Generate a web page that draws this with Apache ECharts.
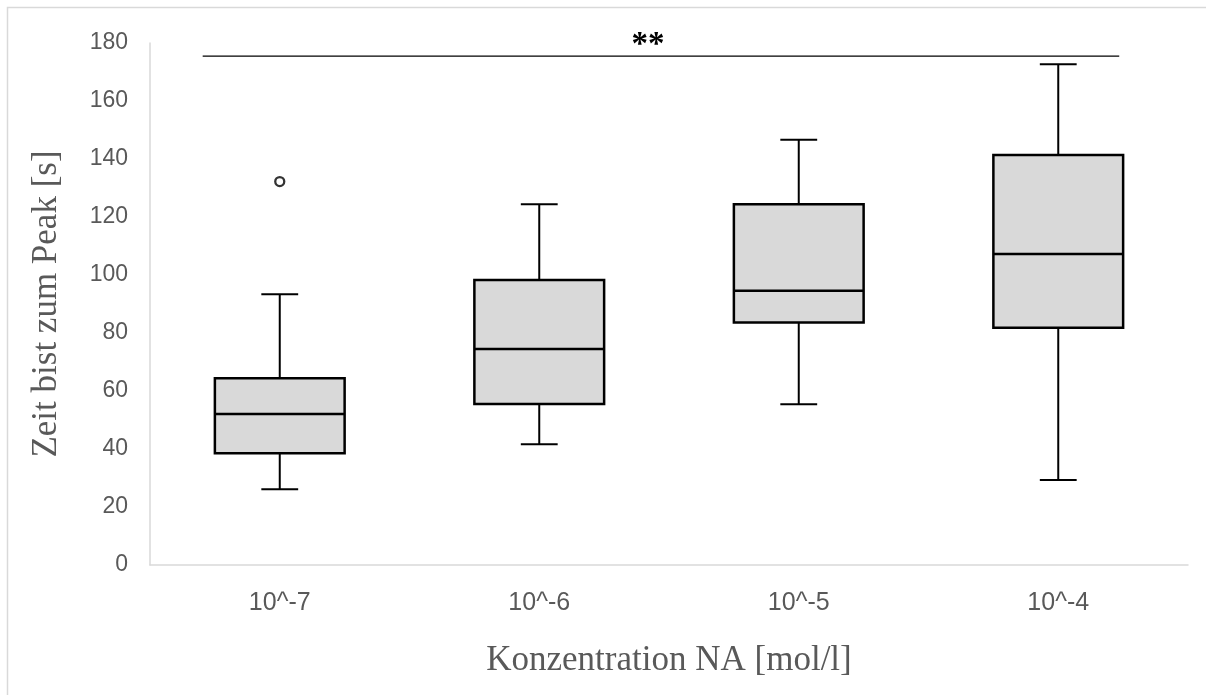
<!DOCTYPE html>
<html>
<head>
<meta charset="utf-8">
<script src="https://cdn.jsdelivr.net/npm/echarts@6/dist/echarts.min.js"></script>
<style>
  html, body { margin: 0; padding: 0; background: #ffffff; }
  #chart { width: 1206px; height: 695px; }
</style>
</head>
<body>
<div id="chart"></div>
<script>
// ---- data ----
const categories   = ['10^-7', '10^-6', '10^-5', '10^-4'];
const whiskerLow   = [26.1, 41.6, 55.4, 29.3];
const quartile1    = [38.5, 55.5, 83.6, 81.8];
const medians      = [52.1, 74.5, 94.6, 107.2];
const quartile3    = [64.4, 98.3, 124.4, 141.4];
const whiskerHigh  = [93.4, 124.4, 146.6, 172.7];
const outlierCats  = ['10^-7'];
const outlierVals  = [132.2];
const sigFromCat   = 0;
const sigToCat     = 3;
const sigLevel     = 175.5;
const sigLabel     = '**';
const yMin = 0, yMax = 180, yStep = 20;
const xTitle = 'Konzentration NA [mol/l]';
const yTitle = 'Zeit bist zum Peak [s]';

// ---- build series data ----
const boxData = categories.map((c, i) =>
  [i, whiskerLow[i], quartile1[i], medians[i], quartile3[i], whiskerHigh[i]]);
const outlierData = outlierCats.map((c, i) => [c, outlierVals[i]]);
const sigData = [[sigFromCat, sigToCat, sigLevel]];

const LINE = '#000000';
const FILL = '#d9d9d9';
const TEXT = '#595959';

function renderBox(params, api) {
  const x = api.value(0);
  const pLo  = api.coord([x, api.value(1)]);
  const pQ1  = api.coord([x, api.value(2)]);
  const pMed = api.coord([x, api.value(3)]);
  const pQ3  = api.coord([x, api.value(4)]);
  const pHi  = api.coord([x, api.value(5)]);
  const band = api.size([1, 0])[0];
  const half = band * 0.25;
  const capHalf = band * 0.071;
  const cx = pMed[0];
  const ls = { stroke: LINE, lineWidth: 2 };
  const lb = { stroke: LINE, lineWidth: 2.5 };
  return {
    type: 'group',
    children: [
      { type: 'line', shape: { x1: cx, y1: pQ3[1], x2: cx, y2: pHi[1] }, style: ls },
      { type: 'line', shape: { x1: cx, y1: pQ1[1], x2: cx, y2: pLo[1] }, style: ls },
      { type: 'line', shape: { x1: cx - capHalf, y1: pHi[1], x2: cx + capHalf, y2: pHi[1] }, style: ls },
      { type: 'line', shape: { x1: cx - capHalf, y1: pLo[1], x2: cx + capHalf, y2: pLo[1] }, style: ls },
      { type: 'rect', shape: { x: cx - half, y: pQ3[1], width: half * 2, height: pQ1[1] - pQ3[1] },
        style: { fill: FILL, stroke: LINE, lineWidth: 2.5 } },
      { type: 'line', shape: { x1: cx - half, y1: pMed[1], x2: cx + half, y2: pMed[1] }, style: lb }
    ]
  };
}

function renderSig(params, api) {
  const a = api.coord([api.value(0), api.value(2)]);
  const b = api.coord([api.value(1), api.value(2)]);
  const band = api.size([1, 0])[0];
  const x1 = a[0] - band * 0.297;
  const x2 = b[0] + band * 0.235;
  const y = a[1];
  return {
    type: 'group',
    children: [
      { type: 'line', shape: { x1: x1, y1: y, x2: x2, y2: y }, style: { stroke: LINE, lineWidth: 1.3 } },
      { type: 'text', x: x1 + (x2 - x1) * 0.486, y: y - 11,
        style: { text: sigLabel, fill: '#000', font: 'bold 33px "Liberation Serif", serif',
                 align: 'center', verticalAlign: 'middle' } }
    ]
  };
}

const chart = echarts.init(document.getElementById('chart'), null, { renderer: 'canvas' });
chart.setOption({
  backgroundColor: '#ffffff',
  animation: false,
  graphic: [{
    type: 'rect', silent: true, z: -10,
    shape: { x: 7.5, y: 7.5, width: 1220, height: 720 },
    style: { fill: null, stroke: '#d9d9d9', lineWidth: 1.5 }
  }],
  grid: { left: 150, right: 18, top: 43, bottom: 130, containLabel: false },
  xAxis: {
    type: 'category',
    data: categories,
    boundaryGap: true,
    axisLine: { show: true, lineStyle: { color: '#d9d9d9', width: 1.5 } },
    axisTick: { show: false },
    splitLine: { show: false },
    axisLabel: { color: TEXT, fontFamily: '"Liberation Sans", Arial, sans-serif', fontSize: 25, margin: 26 },
    name: xTitle,
    nameLocation: 'middle',
    nameGap: 78,
    nameTextStyle: { color: TEXT, fontFamily: '"Liberation Serif", serif', fontSize: 35 }
  },
  yAxis: {
    type: 'value',
    min: yMin, max: yMax, interval: yStep,
    axisLine: { show: true, lineStyle: { color: '#d9d9d9', width: 1.5 } },
    axisTick: { show: false },
    splitLine: { show: false },
    axisLabel: { color: TEXT, fontFamily: '"Liberation Sans", Arial, sans-serif', fontSize: 23, margin: 22 },
    name: yTitle,
    nameLocation: 'middle',
    nameGap: 86,
    nameRotate: 90,
    nameTextStyle: { color: TEXT, fontFamily: '"Liberation Serif", serif', fontSize: 35 }
  },
  series: [
    {
      type: 'custom',
      name: 'box',
      renderItem: renderBox,
      encode: { x: 0, y: [1, 2, 3, 4, 5] },
      data: boxData,
      z: 2
    },
    {
      type: 'scatter',
      name: 'outlier',
      data: outlierData,
      symbol: 'circle',
      symbolSize: 9,
      itemStyle: { color: '#ffffff', borderColor: LINE, borderWidth: 2.3 },
      z: 3
    },
    {
      type: 'custom',
      name: 'significance',
      renderItem: renderSig,
      encode: { x: [0, 1], y: 2 },
      data: sigData,
      clip: false,
      z: 4
    }
  ]
});
</script>
</body>
</html>
